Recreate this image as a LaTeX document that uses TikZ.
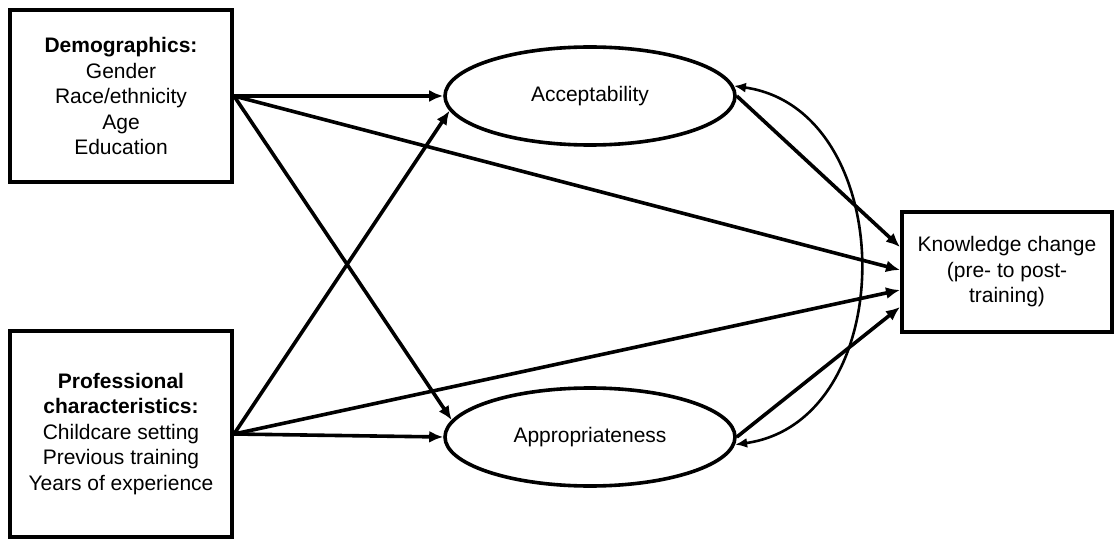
\documentclass[tikz,border=0pt]{standalone}
\usepackage{fontspec}
\setmainfont{Liberation Sans}
\usetikzlibrary{shapes.geometric,arrows.meta}

\begin{document}
\begin{tikzpicture}[x=1pt, y=-1pt,
    every node/.style={font=\fontsize{21}{25.5}\selectfont, align=center},
    varbox/.style={draw, line width=4pt, inner sep=0pt},
    latent/.style={draw, ellipse, line width=3.6pt, minimum width=290pt, minimum height=98pt, inner sep=0pt},
    path/.style={line width=3.6pt, -{Latex[length=14pt,width=12pt]}},
    cov/.style={line width=2.6pt, {Latex[length=12pt,width=10pt]}-{Latex[length=12pt,width=10pt]}}]
    \useasboundingbox (0,0) rectangle (1116,540);

    % Observed variables
    \node[varbox, minimum width=222pt, minimum height=172pt] (demo) at (121,96)
        {\textbf{Demographics:}\\Gender\\Race/ethnicity\\Age\\Education};
    \node[varbox, minimum width=222pt, minimum height=206pt] (prof) at (121,434)
        {\textbf{Professional}\\\textbf{characteristics:}\\Childcare setting\\Previous training\\Years of experience};
    \node[varbox, minimum width=210pt, minimum height=120pt] (know) at (1007,272)
        {Knowledge change\\(pre- to post-\\training)};

    % Latent variables
    \node[latent] (acc) at (590,96) {Acceptability};
    \node[latent] (app) at (590,437) {Appropriateness};

    % Paths
    \draw[path] (demo.east) -- (acc.west);
    \draw[path] (demo.east) -- (app.173);
    \draw[path] (demo.east) -- ([yshift=2pt]know.west);
    \draw[path] (prof.east) -- (acc.186);
    \draw[path] (prof.east) -- (app.west);
    \draw[path] (prof.east) -- ([yshift=-18pt]know.west);
    \draw[path] (acc.east) -- ([yshift=25pt]know.west);
    \draw[path] (app.east) -- ([yshift=-35pt]know.west);

    % Covariance
    \draw[cov] (acc.4) to[out=-8, in=8, looseness=1.2] (app.-3);
\end{tikzpicture}
\end{document}
